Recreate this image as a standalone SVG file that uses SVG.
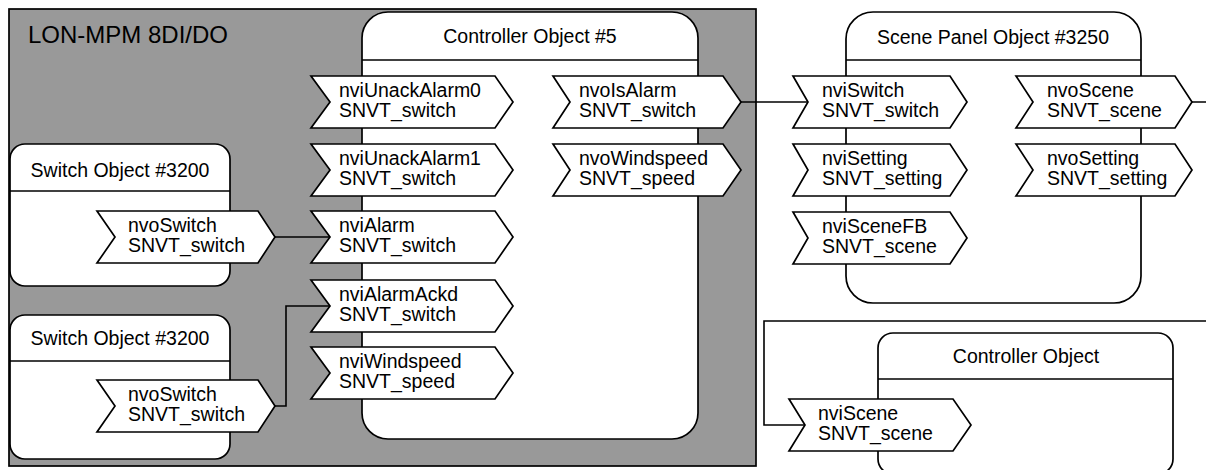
<svg xmlns="http://www.w3.org/2000/svg" width="1206" height="470" viewBox="0 0 1206 470">
  <style>
    .frame { fill: #999999; stroke: #000; stroke-width: 1.7; }
    .obj { fill: #fff; stroke: #000; stroke-width: 1.7; }
    .sep { fill: none; stroke: #000; stroke-width: 1.7; }
    .port { fill: #fff; stroke: #000; stroke-width: 1.7; stroke-linejoin: miter; }
    .wire { fill: none; stroke: #000; stroke-width: 1.6; }
    text { font-family: "Liberation Sans", Arial, sans-serif; font-size: 19.5px; fill: #000; }
    .title { text-anchor: middle; }
    .big { font-size: 24px; }
  </style>

  <!-- device frame -->
  <g id="device">
    <rect class="frame" x="9" y="9" width="747" height="457"/>
    <text class="big" x="28" y="43">LON-MPM 8DI/DO</text>
  </g>

  <!-- function block: controller #5 -->
  <g id="controller5">
    <rect class="obj" x="362" y="12" width="336" height="427" rx="26" ry="26"/>
    <line class="sep" x1="362" y1="60" x2="698" y2="60"/>
    <text class="title" x="530" y="43">Controller Object #5</text>
  </g>

  <!-- function block: scene panel -->
  <g id="scenepanel">
    <rect class="obj" x="846" y="12" width="295" height="291" rx="27" ry="27"/>
    <line class="sep" x1="846" y1="60" x2="1141" y2="60"/>
    <text class="title" x="993" y="44">Scene Panel Object #3250</text>
  </g>

  <!-- function blocks: switches -->
  <g id="switch1">
    <rect class="obj" x="10" y="144" width="220" height="142" rx="15" ry="15"/>
    <line class="sep" x1="10" y1="191" x2="230" y2="191"/>
    <text class="title" x="120" y="177">Switch Object #3200</text>
  </g>
  <g id="switch2">
    <rect class="obj" x="10" y="315" width="220" height="144" rx="15" ry="15"/>
    <line class="sep" x1="10" y1="361" x2="230" y2="361"/>
    <text class="title" x="120" y="345">Switch Object #3200</text>
  </g>

  <!-- function block: remote controller -->
  <g id="controller">
    <rect class="obj" x="878" y="333" width="295" height="141" rx="15" ry="15"/>
    <line class="sep" x1="878" y1="379" x2="1173" y2="379"/>
    <text class="title" x="1026" y="363">Controller Object</text>
  </g>

  <!-- bindings -->
  <g id="connectors">
    <path class="wire" d="M275,237 H329"/>
    <path class="wire" d="M275,406 H286 V306 H329"/>
    <path class="wire" d="M741,102 H808"/>
    <path class="wire" d="M1192,102 H1220 V321 H764 V425 H805"/>
  </g>

  <!-- network variables -->
  <g id="sw1-nvoSwitch">
    <polygon class="port" points="97,211 258,211 275,237 258,263 97,263 115,237"/>
    <text x="128" y="232">nvoSwitch</text>
    <text x="128" y="252">SNVT_switch</text>
  </g>
  <g id="sw2-nvoSwitch">
    <polygon class="port" points="97,380 258,380 275,406 258,432 97,432 115,406"/>
    <text x="128" y="401">nvoSwitch</text>
    <text x="128" y="421">SNVT_switch</text>
  </g>

  <g id="c5-nviUnackAlarm0">
    <polygon class="port" points="311,76 495,76 513,102 495,128 311,128 330,102"/>
    <text x="339" y="97">nviUnackAlarm0</text>
    <text x="339" y="117">SNVT_switch</text>
  </g>
  <g id="c5-nviUnackAlarm1">
    <polygon class="port" points="311,144 495,144 513,170 495,196 311,196 330,170"/>
    <text x="339" y="165">nviUnackAlarm1</text>
    <text x="339" y="185">SNVT_switch</text>
  </g>
  <g id="c5-nviAlarm">
    <polygon class="port" points="311,211 495,211 513,237 495,263 311,263 330,237"/>
    <text x="339" y="232">nviAlarm</text>
    <text x="339" y="252">SNVT_switch</text>
  </g>
  <g id="c5-nviAlarmAckd">
    <polygon class="port" points="311,280 495,280 513,306 495,332 311,332 330,306"/>
    <text x="339" y="301">nviAlarmAckd</text>
    <text x="339" y="321">SNVT_switch</text>
  </g>
  <g id="c5-nviWindspeed">
    <polygon class="port" points="311,347 495,347 513,373 495,399 311,399 330,373"/>
    <text x="339" y="368">nviWindspeed</text>
    <text x="339" y="388">SNVT_speed</text>
  </g>
  <g id="c5-nvoIsAlarm">
    <polygon class="port" points="553,76 723,76 741,102 723,128 553,128 570,102"/>
    <text x="579" y="97">nvoIsAlarm</text>
    <text x="579" y="117">SNVT_switch</text>
  </g>
  <g id="c5-nvoWindspeed">
    <polygon class="port" points="553,144 723,144 741,170 723,196 553,196 570,170"/>
    <text x="579" y="165">nvoWindspeed</text>
    <text x="579" y="185">SNVT_speed</text>
  </g>

  <g id="sp-nviSwitch">
    <polygon class="port" points="793,76 950,76 967,102 950,128 793,128 808,102"/>
    <text x="822" y="97">nviSwitch</text>
    <text x="822" y="117">SNVT_switch</text>
  </g>
  <g id="sp-nviSetting">
    <polygon class="port" points="793,144 950,144 967,170 950,196 793,196 808,170"/>
    <text x="822" y="165">nviSetting</text>
    <text x="822" y="185">SNVT_setting</text>
  </g>
  <g id="sp-nviSceneFB">
    <polygon class="port" points="793,212 950,212 967,238 950,264 793,264 808,238"/>
    <text x="822" y="233">nviSceneFB</text>
    <text x="822" y="253">SNVT_scene</text>
  </g>
  <g id="sp-nvoScene">
    <polygon class="port" points="1016,76 1175,76 1192,102 1175,128 1016,128 1033,102"/>
    <text x="1047" y="97">nvoScene</text>
    <text x="1047" y="117">SNVT_scene</text>
  </g>
  <g id="sp-nvoSetting">
    <polygon class="port" points="1016,144 1175,144 1192,170 1175,196 1016,196 1033,170"/>
    <text x="1047" y="165">nvoSetting</text>
    <text x="1047" y="185">SNVT_setting</text>
  </g>

  <g id="ctl-nviScene">
    <polygon class="port" points="789,399 953,399 971,425 953,451 789,451 805,425"/>
    <text x="818" y="420">nviScene</text>
    <text x="818" y="440">SNVT_scene</text>
  </g>
</svg>
